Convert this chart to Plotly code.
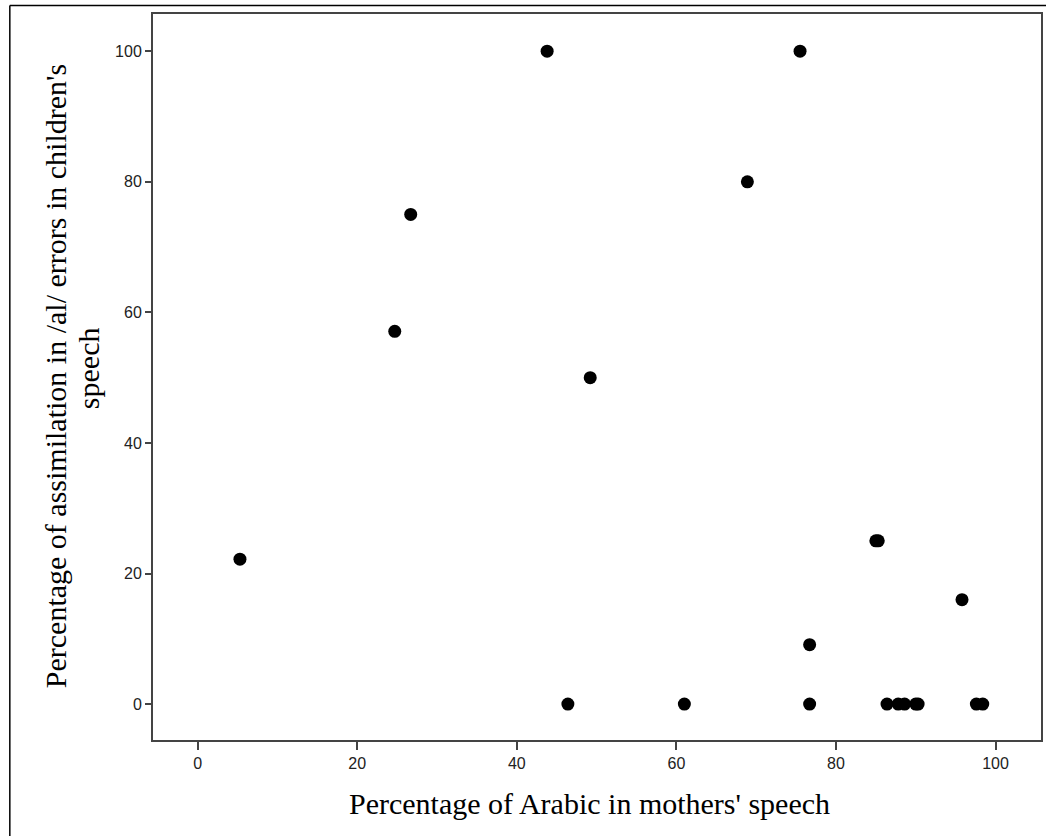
import plotly.graph_objects as go

arabic_pct = [5.3, 24.7, 26.7, 43.8, 46.4, 49.2, 61.0, 68.9, 75.5, 76.7, 76.7,
              85.0, 85.3, 95.8, 86.4, 87.8, 88.6, 90.0, 90.3, 97.6, 98.4]
assim_pct = [22.2, 57.1, 75.0, 100.0, 0.0, 50.0, 0.0, 80.0, 100.0, 9.1, 0.0,
             25.0, 25.0, 16.0, 0.0, 0.0, 0.0, 0.0, 0.0, 0.0, 0.0]
tick_vals = [0, 20, 40, 60, 80, 100]
x_title = "Percentage of Arabic in mothers' speech"
y_title_line1 = "Percentage of assimilation in /al/ errors in children's"
y_title_line2 = "speech"

fig = go.Figure()
fig.add_trace(go.Scatter(
    x=arabic_pct, y=assim_pct, mode="markers",
    marker=dict(color="black", size=13, line=dict(width=0)),
    showlegend=False, hoverinfo="x+y"))

axis_common = dict(
    showgrid=False, zeroline=False, showline=True, mirror=True,
    linecolor="#444", linewidth=2, ticks="outside", tickcolor="#444",
    tickwidth=2, tickvals=tick_vals,
    tickfont=dict(family="Liberation Sans, Arial", size=16, color="#222"))

fig.update_layout(
    width=1046, height=836,
    margin=dict(l=153, r=3, t=14, b=96),
    paper_bgcolor="white", plot_bgcolor="white",
    xaxis=dict(range=[-5.6, 105.7], ticklen=8, **axis_common),
    yaxis=dict(range=[-5.5, 105.7], ticklen=6, **axis_common),
    font=dict(family="Liberation Serif, Times New Roman, serif", color="black"),
)

title_font = dict(family="Liberation Serif, Times New Roman, serif", size=30, color="black")
fig.add_annotation(text=x_title, xref="paper", yref="paper",
                   x=(590 - 153) / 890, y=-(803 - 740) / 726,
                   xanchor="center", yanchor="middle", showarrow=False, font=title_font)
fig.add_annotation(text=y_title_line1, xref="paper", yref="paper",
                   x=(55 - 153) / 890, y=(740 - 376) / 726, textangle=-90,
                   xanchor="center", yanchor="middle", showarrow=False, font=title_font)
fig.add_annotation(text=y_title_line2, xref="paper", yref="paper",
                   x=(88 - 153) / 890, y=(740 - 368) / 726, textangle=-90,
                   xanchor="center", yanchor="middle", showarrow=False, font=title_font)

# outer frame (top and left edges visible)
bx = (9.5 - 153) / 890
by = (740 - 5.5) / 726
fig.add_shape(type="line", xref="paper", yref="paper", x0=bx, x1=1.2, y0=by, y1=by,
              line=dict(color="black", width=1.5))
fig.add_shape(type="line", xref="paper", yref="paper", x0=bx, x1=bx, y0=-0.5, y1=by,
              line=dict(color="black", width=1.5))

fig.write_html("out.html")
